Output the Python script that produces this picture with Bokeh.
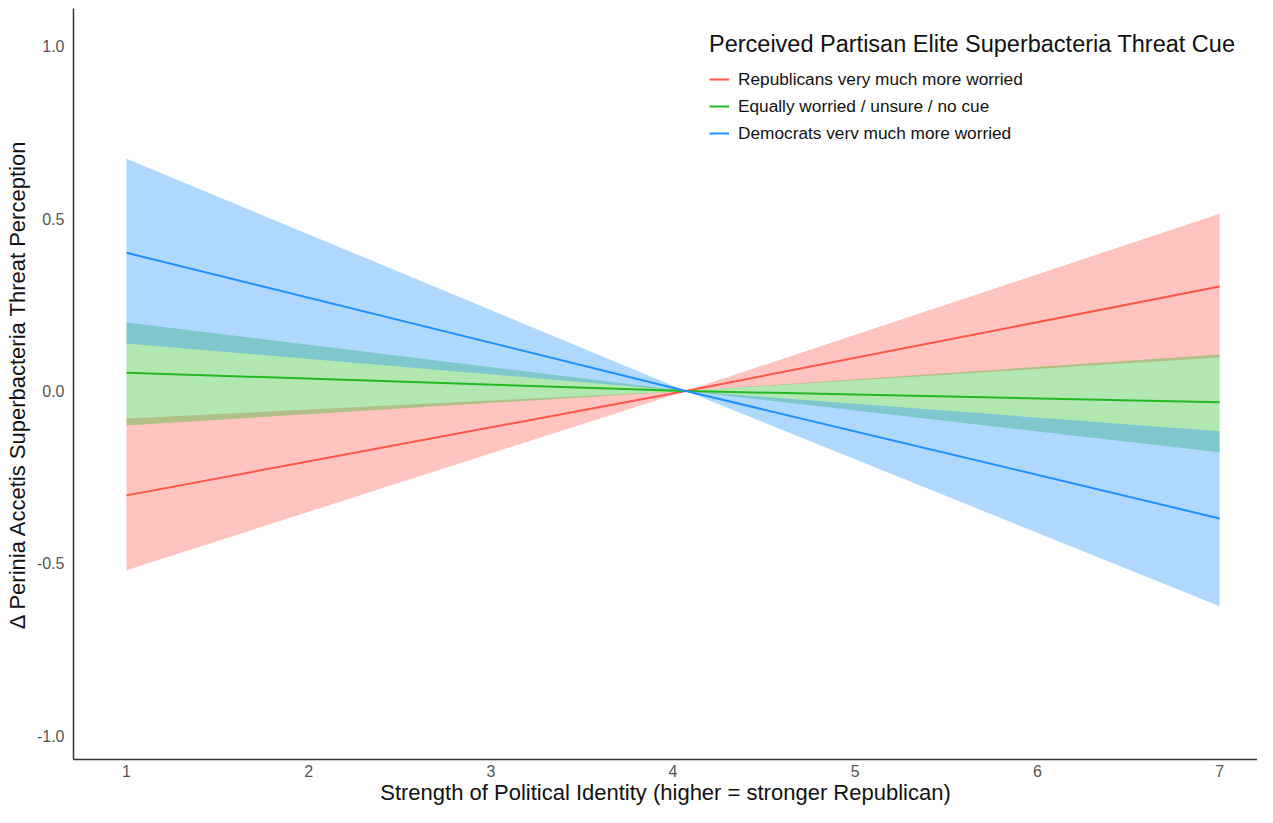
from bokeh.plotting import figure
from bokeh.models import Range1d, Legend, LegendItem, FixedTicker, CustomJSTickFormatter
from bokeh.embed import file_html
from bokeh.resources import INLINE

# ---- data ----
x_pts = [1.0, 4.07, 7.0]

rep_fit = [-0.303, 0.0, 0.303]
rep_lo = [-0.520, 0.0, 0.097]
rep_hi = [-0.080, 0.0, 0.514]

eq_fit = [0.053, 0.0, -0.033]
eq_lo = [-0.100, 0.0, -0.178]
eq_hi = [0.199, 0.0, 0.106]

dem_fit = [0.401, 0.0, -0.370]
dem_lo = [0.138, 0.0, -0.625]
dem_hi = [0.674, 0.0, -0.117]

series_names = ["Republicans very much more worried",
                "Equally worried / unsure / no cue",
                "Democrats verv much more worried"]
colors = ["#FF5648", "#22B922", "#1E90FF"]

x_ticks = [1, 2, 3, 4, 5, 6, 7]
y_ticks = [-1.0, -0.5, 0.0, 0.5, 1.0]

FONT = "Liberation Sans"

p = figure(width=1257, height=807, output_backend="svg", toolbar_location=None,
           x_range=Range1d(0.709, 7.208), y_range=Range1d(-1.0696, 1.110),
           min_border_left=73, min_border_right=0, min_border_top=8, min_border_bottom=47)
p.outline_line_color = None
p.xgrid.visible = False
p.ygrid.visible = False
p.background_fill_color = "white"

fits = [rep_fit, eq_fit, dem_fit]
los = [rep_lo, eq_lo, dem_lo]
his = [rep_hi, eq_hi, dem_hi]

for lo, hi, c in zip(los, his, colors):
    p.varea(x=x_pts, y1=lo, y2=hi, fill_color=c, fill_alpha=0.35)

renderers = []
for f, c in zip(fits, colors):
    r = p.line(x_pts, f, line_color=c, line_width=2)
    renderers.append(r)

legend = Legend(items=[LegendItem(label=n, renderers=[r]) for n, r in zip(series_names, renderers)],
                location=(636, 614), title="Perceived Partisan Elite Superbacteria Threat Cue",
                title_text_font=FONT, title_text_font_size="23.5px", title_text_color="#111111",
                title_text_font_style="normal", title_standoff=9,
                label_text_font=FONT, label_text_font_size="17.25px", label_text_color="#111111",
                glyph_width=20, glyph_height=24, spacing=3, label_standoff=9,
                padding=0, border_line_alpha=0, background_fill_alpha=0)
p.add_layout(legend)

for ax in (p.xaxis[0], p.yaxis[0]):
    ax.axis_line_color = "#333333"
    ax.axis_line_width = 1.5
    ax.major_tick_line_color = None
    ax.minor_tick_line_color = None
    ax.major_tick_out = 0
    ax.major_tick_in = 0
    ax.major_label_text_font = FONT
    ax.major_label_text_font_size = "16px"
    ax.major_label_text_color = "#555555"
    ax.axis_label_text_font = FONT
    ax.axis_label_text_font_size = "22px"
    ax.axis_label_text_font_style = "normal"
    ax.axis_label_text_color = "#111111"

p.xaxis.ticker = FixedTicker(ticks=x_ticks)
p.yaxis.ticker = FixedTicker(ticks=y_ticks)
p.yaxis.formatter = CustomJSTickFormatter(code="return tick.toFixed(1);")
p.xaxis.major_label_standoff = 5
p.yaxis.major_label_standoff = 9
p.xaxis.axis_label = "Strength of Political Identity (higher = stronger Republican)"
p.yaxis.axis_label = "\u0394 Perinia Accetis Superbacteria Threat Perception"
p.xaxis.axis_label_standoff = 0
p.yaxis.axis_label_standoff = 4

open("out.html", "w").write(file_html(p, INLINE))
